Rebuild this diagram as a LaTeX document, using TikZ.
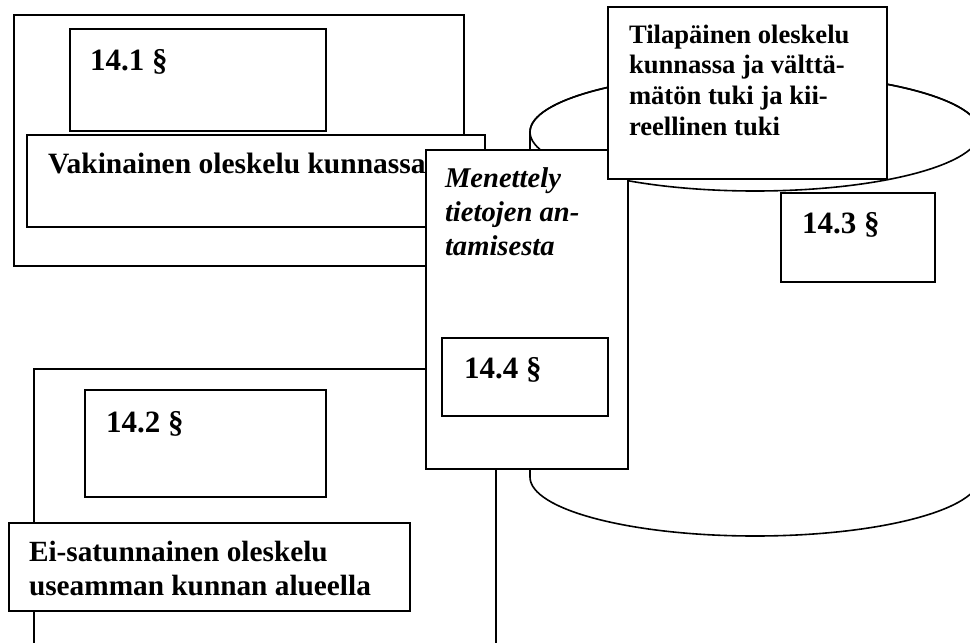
\documentclass[tikz,border=0pt]{standalone}
\usepackage{fontspec}
\setmainfont{Liberation Serif}
\begin{document}
\begin{tikzpicture}[x=1pt,y=-1pt,
  box/.style={draw, line width=1.8pt, fill=white, inner sep=0pt, outer sep=0pt, anchor=north west},
  lbl/.style={anchor=base west, inner sep=0pt, outer sep=0pt},
  secfont/.style={font=\bfseries\fontsize{31}{34}\selectfont}]
\useasboundingbox (0,0) rectangle (970,643);
\clip (0,0) rectangle (970,643);
% upper left frame
\node[box, minimum width=450pt, minimum height=251pt] (frameA) at (14,15) {};
\node[box, minimum width=256pt, minimum height=102pt] (b141) at (70,29) {};
\node[lbl, secfont] (t141) at (90,70) {14.1 §};
\node[box, minimum width=458pt, minimum height=92pt] (vak) at (27,135) {};
\node[lbl, font=\bfseries\fontsize{29.5}{34}\selectfont] (tvak) at (48,173) {Vakinainen oleskelu kunnassa};
% cylinder
\filldraw[line width=1.6pt, fill=white] (530,132) -- (530,477)
  arc[start angle=180, end angle=360, x radius=225pt, y radius=59pt] -- (980,132)
  arc[start angle=0, end angle=180, x radius=225pt, y radius=59pt] -- cycle;
\draw[line width=1.6pt] (755,132) ellipse [x radius=225pt, y radius=59pt];
% lower left frame
\node[box, minimum width=462pt, minimum height=340pt] (frameB) at (34,369) {};
\node[box, minimum width=241pt, minimum height=107pt] (b142) at (85,390) {};
\node[lbl, secfont] (t142) at (106,432) {14.2 §};
\node[box, minimum width=401pt, minimum height=88pt] (ei) at (9,523) {};
\node[lbl] (tei) at (29,561) {\parbox[t]{380pt}{\raggedright\bfseries\fontsize{29.3}{34}\selectfont Ei-satunnainen oleskelu\\useamman kunnan alueella}};
% Menettely column
\node[box, minimum width=202pt, minimum height=319pt] (men) at (426,150) {};
\node[lbl] (tmen) at (445,187) {\parbox[t]{180pt}{\raggedright\bfseries\itshape\fontsize{28.6}{34}\selectfont Menettely\\tietojen an-\\tamisesta}};
\node[box, minimum width=166pt, minimum height=78pt] (b144) at (442,338) {};
\node[lbl, secfont] (t144) at (464,378) {14.4 §};
% Tilapainen
\node[box, minimum width=279pt, minimum height=172pt] (til) at (608,7) {};
\node[lbl] (ttil) at (629,43) {\parbox[t]{250pt}{\raggedright\bfseries\fontsize{26.6}{30.7}\selectfont Tilapäinen oleskelu\\kunnassa ja välttä-\\mätön tuki ja kii-\\reellinen tuki}};
\node[box, minimum width=154pt, minimum height=89pt] (b143) at (781,193) {};
\node[lbl, secfont] (t143) at (802,233) {14.3 §};
\end{tikzpicture}
\end{document}
